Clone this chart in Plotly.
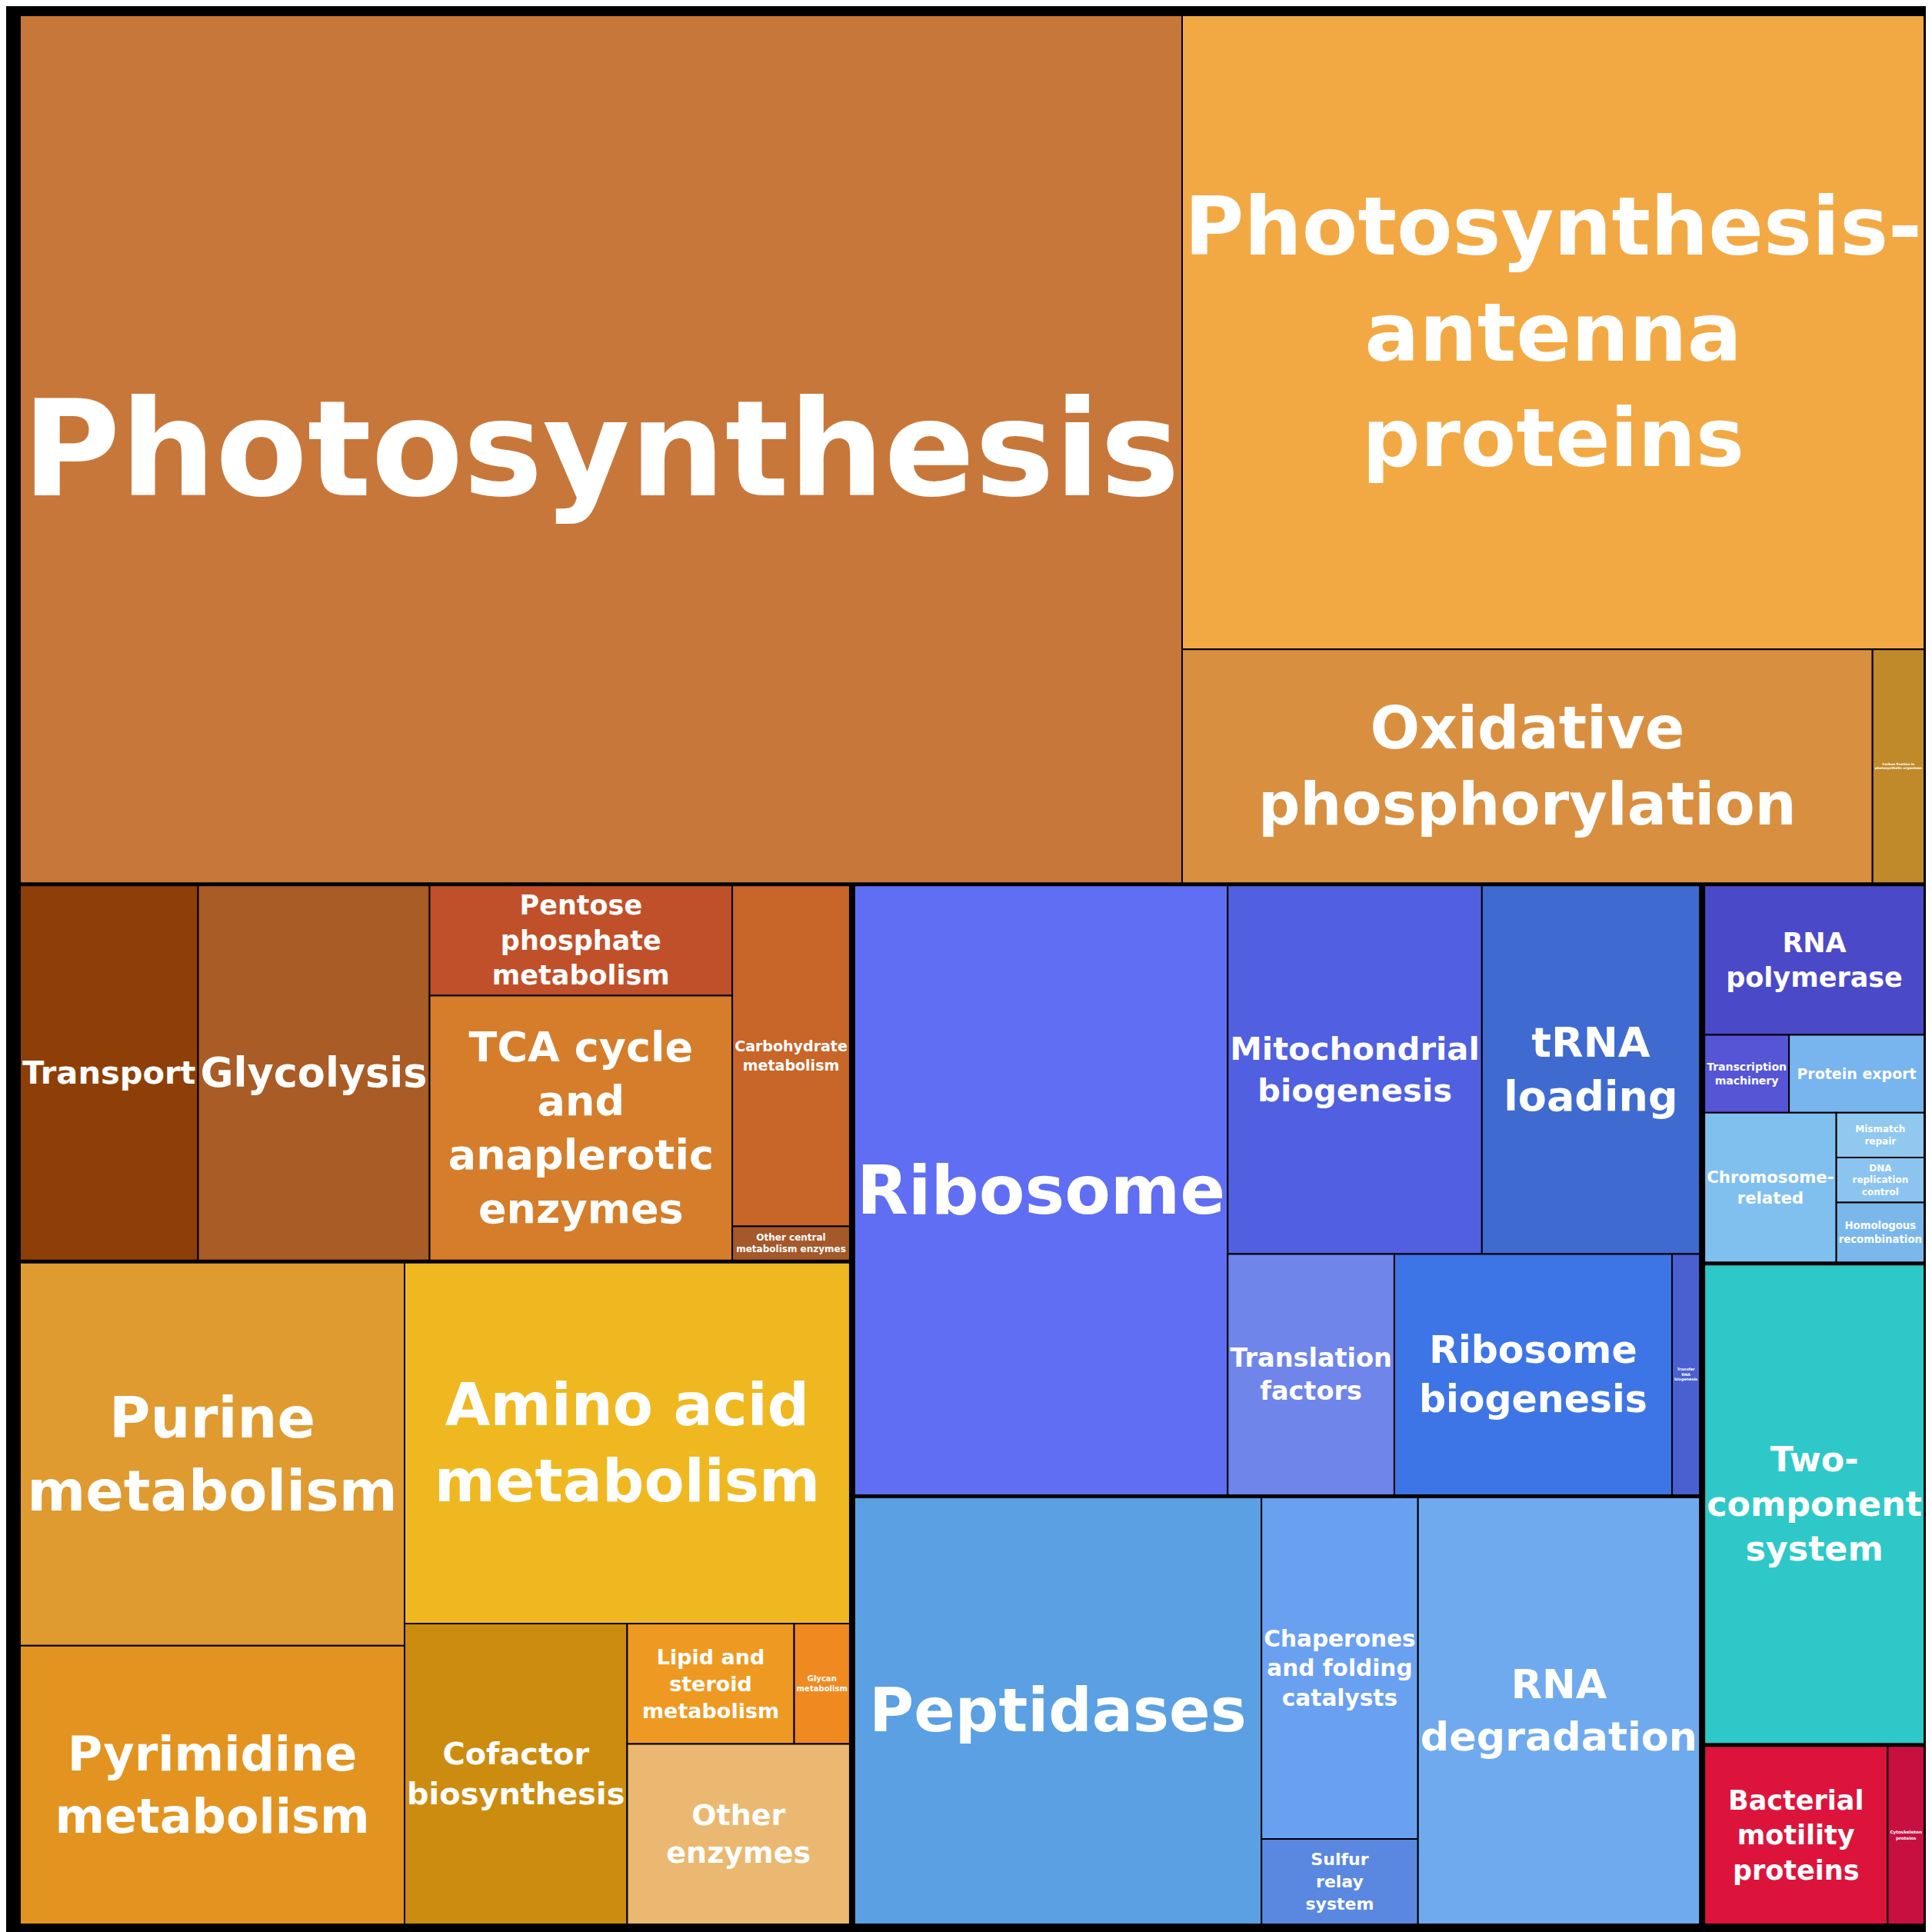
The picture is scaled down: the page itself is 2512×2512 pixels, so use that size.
import plotly.graph_objects as go
import math

# leaf categories (estimated relative areas from the reference) and their group
labels = [
    "Photosynthesis", "Photosynthesis-<br>antenna<br>proteins", "Oxidative<br>phosphorylation",
    "Carbon fixation in<br>photosynthetic organisms",
    "Transport", "Glycolysis", "Pentose<br>phosphate<br>metabolism", "TCA cycle<br>and<br>anaplerotic<br>enzymes",
    "Carbohydrate<br>metabolism", "Other central<br>metabolism enzymes",
    "Purine<br>metabolism", "Pyrimidine<br>metabolism", "Amino acid<br>metabolism", "Cofactor<br>biosynthesis",
    "Lipid and<br>steroid<br>metabolism", "Glycan<br>metabolism", "Other<br>enzymes",
    "Bacterial<br>motility<br>proteins", "Cytoskeleton<br>proteins",
    "Ribosome", "Mitochondrial<br>biogenesis", "tRNA<br>loading", "Translation<br>factors",
    "Ribosome<br>biogenesis", "Transfer<br>RNA<br>biogenesis",
    "Peptidases", "Chaperones<br>and folding<br>catalysts", "Sulfur<br>relay<br>system", "RNA<br>degradation",
    "RNA<br>polymerase", "Transcription<br>machinery", "Protein export", "Chromosome-<br>related",
    "Mismatch<br>repair", "DNA<br>replication<br>control", "Homologous<br>recombination",
    "Two-<br>component<br>system",
]
groups = (["energy"] * 4 + ["central"] * 6 + ["other_met"] * 7 + ["cellular"] * 2
          + ["translation"] * 6 + ["folding"] * 4 + ["genetic"] * 7 + ["env"])
values = [
    750, 350, 120, 9,
    50, 65, 25, 60, 30, 3,
    110, 80, 120, 50, 15, 5, 30,
    25, 5,
    170, 70, 60, 30, 50, 5,
    130, 40, 10, 90, 25, 5, 8, 15, 3, 3, 4,
    80,
]
colors = [
    "#c8773a", "#f2a944", "#d98f40", "#c08a2a",
    "#8e3f08", "#a95c25", "#c0502a", "#d57d2a", "#c86528", "#a5582a",
    "#df9a30", "#e39320", "#f0b820", "#cc8c10", "#ee9a22", "#f08a20", "#eab870",
    "#dc143c", "#c81040",
    "#5f6ef2", "#5060e0", "#3f6bd0", "#6f85ea", "#3d75e6", "#4a60d0",
    "#5aa0e2", "#6aa0f0", "#5a88e0", "#70aaee",
    "#4a4ac8", "#5555d5", "#78b4ee", "#80c0ef", "#90c8f0", "#8cc4f0", "#7ab8ec",
    "#2ec8c8",
]
group_ids = ["energy", "central", "other_met", "translation", "folding", "genetic", "env", "cellular"]

ids = ["root"] + group_ids + ["n%d" % i for i in range(len(labels))]
all_labels = [""] + [""] * len(group_ids) + labels
parents = [""] + ["root"] * len(group_ids) + groups
all_values = [0] * (1 + len(group_ids)) + values
all_colors = ["black"] * (1 + len(group_ids)) + colors
sizes = [10] * (1 + len(group_ids)) + [max(7, int(7 * math.sqrt(v))) for v in values]

fig = go.Figure(go.Treemap(
    ids=ids,
    labels=all_labels,
    parents=parents,
    values=all_values,
    branchvalues="remainder",
    sort=False,
    marker=dict(colors=all_colors, line=dict(color="black", width=2),
                pad=dict(t=0, l=3, r=3, b=3)),
    texttemplate="<b>%{label}</b>",
    textposition="middle center",
    textfont=dict(family="DejaVu Sans", color="white", size=sizes),
    tiling=dict(packing="squarify", pad=0),
    hoverinfo="label+value",
))
fig.update_layout(
    width=2512, height=2512,
    margin=dict(l=12, r=12, t=12, b=12),
    paper_bgcolor="black",
)
fig.write_html("out.html")
